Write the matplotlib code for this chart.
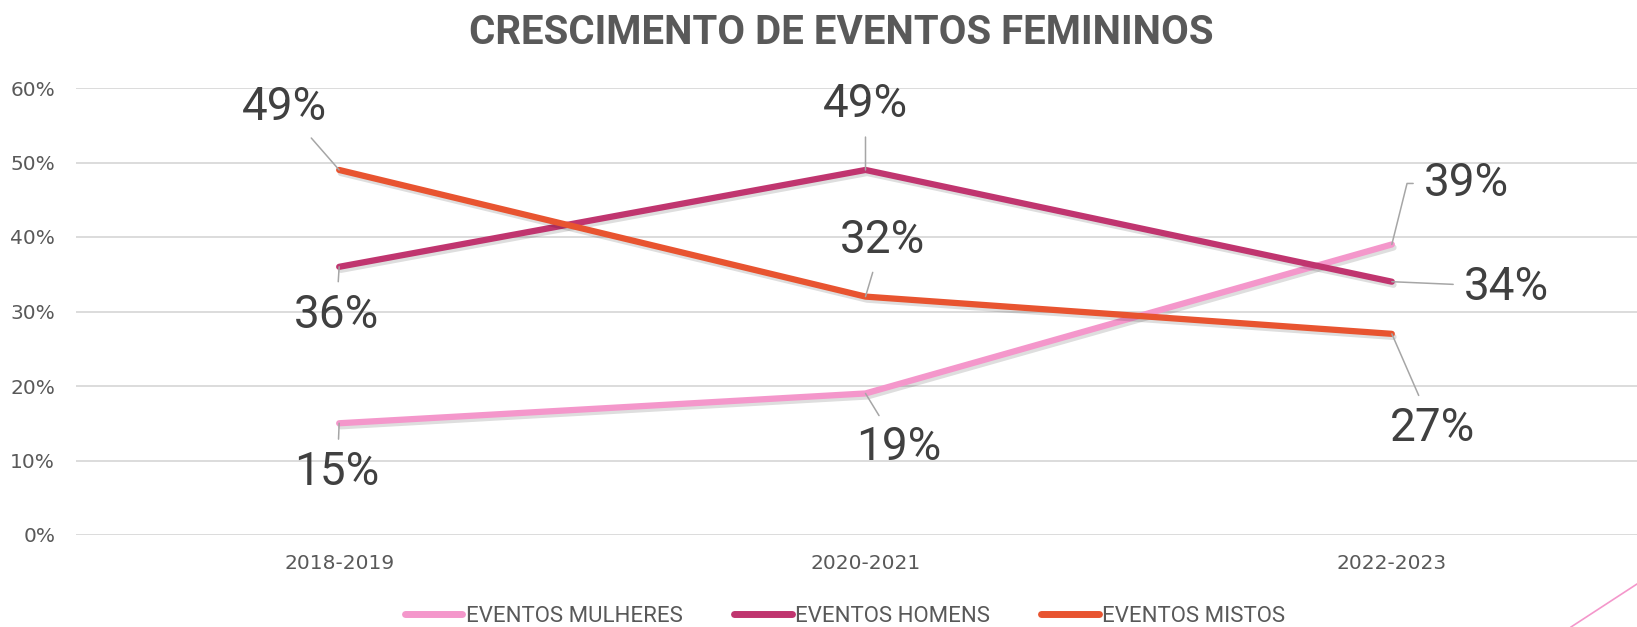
import matplotlib
matplotlib.use("Agg")
import matplotlib.pyplot as plt
import matplotlib.patheffects as pe
from matplotlib.ticker import PercentFormatter

periods = ["2018-2019", "2020-2021", "2022-2023"]
mulheres = [0.15, 0.19, 0.39]
homens = [0.36, 0.49, 0.34]
mistos = [0.49, 0.32, 0.27]
series_names = ["EVENTOS MULHERES", "EVENTOS HOMENS", "EVENTOS MISTOS"]
colors = ["#F497CB", "#C0356F", "#E85430"]

# label offsets in pixels (dx, dy) from each point, per series
offsets = [
    [(-2, -49), (33, -54), (75, 61)],
    [(-3, -48), (0, 66), (115, -5)],
    [(-55, 63), (17, 57), (41, -94)],
]
# leader line shape per label (None = straight)
bends = [
    [None, None, "angle,angleA=180,angleB=76,rad=0"],
    [None, None, None],
    [None, None, None],
]

W, H = 1637, 627
fig = plt.figure(figsize=(W / 100, H / 100), dpi=100)
ax = fig.add_axes([76 / W, 92 / H, 1579 / W, 447 / H])

x = list(range(len(periods)))
shadow = [pe.SimpleLineShadow(offset=(1.2, -2.2), shadow_color="k", alpha=0.13), pe.Normal()]
for vals, name, col in zip([mulheres, homens, mistos], series_names, colors):
    ax.plot(x, vals, color=col, lw=4.5, solid_capstyle="round", label=name,
            path_effects=shadow, zorder=3)

label_font = ["Roboto", "DejaVu Sans"]
for vals, offs, bs in zip([mulheres, homens, mistos], offsets, bends):
    for xi, v, (dx, dy), b in zip(x, vals, offs, bs):
        ap = dict(arrowstyle="-", color="#A6A6A6", lw=1.1, shrinkA=6, shrinkB=0)
        if b:
            ap["connectionstyle"] = b
        ax.annotate(f"{v * 100:.0f}%", xy=(xi, v), xytext=(dx * 0.72, dy * 0.72),
                    textcoords="offset points", ha="center", va="center",
                    fontsize=33, color="#404040", family=label_font,
                    arrowprops=ap, zorder=4)

ax.set_xlim(-0.5, 2.5)
ax.set_ylim(0, 0.6)
ax.set_yticks([0, 0.1, 0.2, 0.3, 0.4, 0.5, 0.6])
ax.yaxis.set_major_formatter(PercentFormatter(1.0, decimals=0))
ax.set_xticks(x)
ax.set_xticklabels(periods)
ax.grid(axis="y", color="#D9D9D9", lw=1.3)
ax.set_axisbelow(True)
for s in ax.spines.values():
    s.set_visible(False)
ax.tick_params(length=0, labelsize=14.5, labelcolor="#595959", pad=14)
ax.tick_params(axis="y", pad=15)

fig.text(841 / W, 1 - 33 / H, "CRESCIMENTO DE EVENTOS FEMININOS", ha="center", va="center",
         fontsize=29, fontweight="bold", color="#595959", family=label_font)

leg = fig.legend(loc="center", bbox_to_anchor=(845 / W, 1 - 616 / H), ncol=3, frameon=False,
                 handlelength=2.6, handletextpad=0.15, columnspacing=2.3,
                 prop={"family": label_font, "size": 16})
for t in leg.get_texts():
    t.set_color("#595959")
for h in leg.get_lines():
    h.set_linewidth(5)
    h.set_path_effects([])

# decorative pink stroke in the lower right corner
fig.add_artist(plt.Line2D([1571 / W, 1.0], [0.0, 43 / H], color="#F497CB", lw=1.2,
                          transform=fig.transFigure))

fig.savefig("out.png", dpi=100)
